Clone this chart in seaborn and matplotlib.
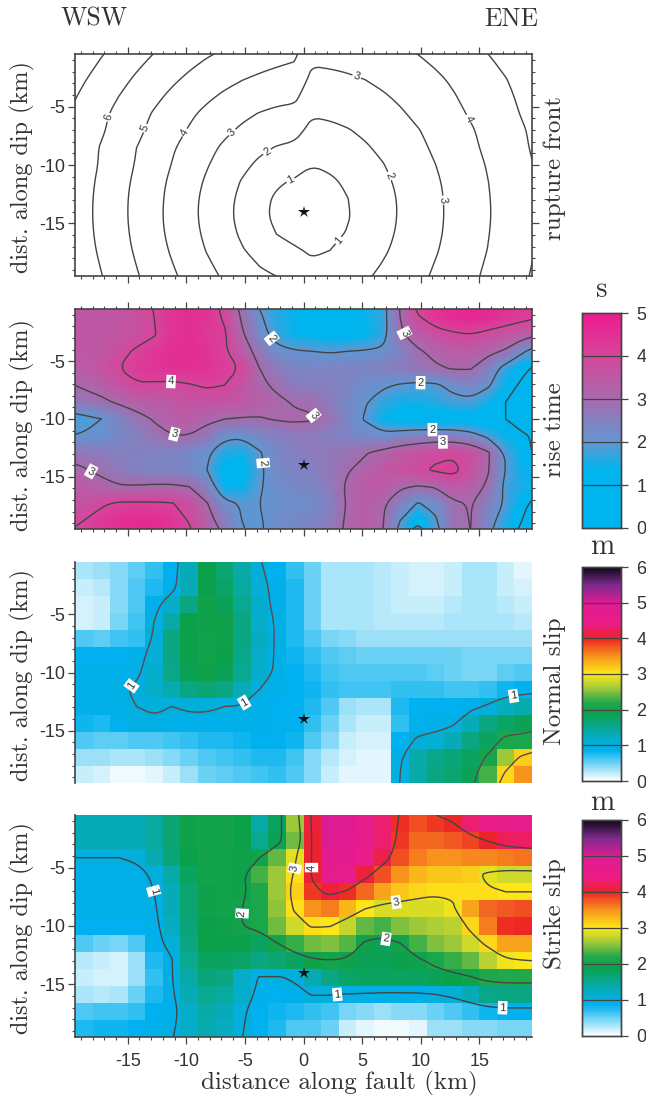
import numpy as np
import pandas as pd
import matplotlib
matplotlib.use("Agg")
import matplotlib.pyplot as plt
from matplotlib.colors import LinearSegmentedColormap
from matplotlib.path import Path
import seaborn as sns

# cell centres are 1.5 km apart in x and ~1.46 km in depth
rupture_front = [
    [7.32,6.92,6.54,6.17,5.82,5.49,5.18,4.90,4.66,4.40,4.25,4.10,3.98, 3.08,3.13,3.21,3.33,3.48,3.66,3.87,4.10,4.35,4.61,4.89,5.17,5.47],
    [7.06,6.65,6.25,5.87,5.50,5.15,4.82,4.52,4.25,4.02,3.85,3.72,3.65, 2.73,2.78,2.87,3.00,3.17,3.37,3.60,3.84,4.11,4.38,4.67,4.97,5.28],
    [6.83,6.41,5.99,5.59,5.20,4.82,4.47,4.15,3.85,3.60,3.40,3.26,3.19, 2.41,2.46,2.57,2.72,2.91,3.13,3.38,3.65,3.93,4.23,4.53,4.84,5.17],
    [6.63,6.19,5.75,5.33,4.92,4.53,4.15,3.79,3.47,3.19,2.96,2.80,2.71, 2.08,2.14,2.27,2.44,2.66,2.90,3.18,3.46,3.77,4.08,4.40,4.74,5.07],
    [6.55,6.10,5.64,5.19,4.76,4.33,3.92,3.53,3.17,2.85,2.58,2.39,2.28, 1.72,1.80,1.94,2.15,2.39,2.66,2.95,3.26,3.58,3.91,4.25,4.59,4.94],
    [6.40,5.93,5.47,5.00,4.55,4.10,3.67,3.24,2.85,2.49,2.17,1.94,1.81, 1.38,1.48,1.66,1.90,2.17,2.47,2.80,3.13,3.47,3.82,4.17,4.52,4.88],
    [6.39,5.90,5.42,4.93,4.45,3.98,3.51,3.06,2.62,2.20,1.83,1.53,1.36, 1.02,1.15,1.37,1.65,1.96,2.29,2.64,2.99,3.34,3.70,4.06,4.43,4.79],
    [6.31,5.81,5.32,4.82,4.33,3.84,3.36,2.88,2.40,1.94,1.51,1.13,0.88, 0.66,0.85,1.13,1.46,1.80,2.16,2.52,2.88,3.25,3.62,3.99,4.36,4.73],
    [6.26,5.76,5.26,4.76,4.27,3.77,3.27,2.77,2.28,1.79,1.30,0.83,0.44, 0.33,0.62,0.98,1.34,1.71,2.08,2.45,2.83,3.20,3.57,3.95,4.32,4.70],
    [6.25,5.75,5.25,4.75,4.25,3.75,3.25,2.75,2.25,1.75,1.26,0.76,0.28, 0.21,0.57,0.94,1.32,1.69,2.07,2.44,2.82,3.19,3.56,3.94,4.31,4.69],
    [6.28,5.78,5.29,4.79,4.29,3.80,3.31,2.82,2.33,1.86,1.39,0.97,0.67, 0.50,0.73,1.05,1.39,1.75,2.12,2.48,2.85,3.22,3.59,3.97,4.34,4.71],
    [6.35,5.85,5.36,4.88,4.39,3.91,3.43,2.96,2.51,2.07,1.67,1.33,1.13, 0.85,1.00,1.25,1.55,1.88,2.22,2.58,2.93,3.29,3.66,4.02,4.39,4.76],
    [6.45,5.97,5.49,5.01,4.54,4.07,3.62,3.18,2.75,2.36,2.02,1.76,1.61, 1.21,1.32,1.52,1.77,2.07,2.38,2.71,3.06,3.40,3.76,4.12,4.48,4.84],
]
rise_time = [
    [3.5,3.5,3.55,3.7,4.0,4.4,4.5,4.4,3.9,2.9,2.1,1.6,1.4,1.3,1.3,1.3,1.4,1.7,3.0,3.9,4.4,4.6,4.7,4.6,4.4,4.2],
    [3.5,3.5,3.55,3.7,3.95,4.4,4.5,4.3,4.1,3.1,2.3,1.7,1.4,1.3,1.2,1.2,1.3,1.7,2.9,3.4,3.7,3.9,4.0,3.8,3.6,3.35],
    [3.5,3.5,3.8,4.1,4.3,4.5,4.6,4.4,4.1,3.4,2.7,2.2,2.05,2.0,1.95,2.0,2.05,2.1,2.4,2.9,3.2,3.4,3.4,3.2,2.9,2.1],
    [3.4,3.6,4.0,4.2,4.4,4.5,4.5,4.4,4.2,3.95,3.0,2.6,2.4,2.4,2.4,2.4,2.4,2.5,2.6,2.75,2.9,3.05,3.05,2.5,1.7,1.2],
    [3.1,3.3,3.6,3.95,3.9,3.85,3.95,4.1,4.0,3.6,3.1,2.9,2.6,2.5,2.5,2.4,2.2,2.1,1.95,1.85,1.9,2.2,2.4,2.1,1.4,0.8],
    [2.7,2.85,3.1,3.3,3.4,3.5,3.6,3.6,3.6,3.5,3.3,3.1,2.95,2.9,2.6,2.3,2.05,1.7,1.5,1.5,1.6,1.8,1.85,1.5,1.0,0.7],
    [1.8,2.0,2.4,2.75,3.05,3.3,3.4,3.15,3.0,2.95,2.95,3.05,3.1,3.05,2.8,2.35,1.95,1.4,1.2,1.1,1.1,1.1,1.1,1.05,1.0,0.6],
    [2.05,2.1,2.3,2.5,2.8,2.98,2.98,2.7,2.15,2.1,2.3,2.5,2.6,2.6,2.5,2.4,2.3,2.2,2.35,2.5,2.55,2.5,2.3,1.85,1.4,1.1],
    [2.7,2.6,2.5,2.5,2.4,2.4,2.3,2.1,1.6,1.5,1.95,2.3,2.5,2.6,2.7,2.8,2.95,3.2,3.45,3.6,3.8,3.9,3.7,3.1,1.9,1.3],
    [3.05,2.85,2.6,2.5,2.4,2.4,2.3,2.0,1.2,1.2,1.9,2.3,2.4,2.5,2.7,2.95,3.2,3.5,3.7,3.85,4.1,4.2,3.7,3.05,2.0,1.4],
    [3.4,3.2,3.05,3.05,3.1,3.1,3.0,2.5,1.4,1.4,1.95,2.2,2.3,2.4,2.6,3.1,3.4,3.5,3.1,2.95,3.05,3.5,3.3,2.9,1.8,1.5],
    [3.6,3.9,4.1,4.1,4.1,4.05,3.7,3.05,2.2,1.95,2.0,2.1,2.2,2.2,2.5,3.05,3.4,3.1,2.5,1.95,2.2,2.85,3.05,2.5,1.9,1.2],
    [4.0,4.3,4.5,4.6,4.6,4.4,3.95,3.3,2.6,2.0,1.95,2.2,2.3,2.4,2.6,3.1,3.4,3.05,2.0,1.1,1.9,2.8,3.02,2.3,1.6,0.95],
]
normal_slip = [
    [.3,.35,.4,.55,.7,.85,1.3,1.9,1.7,1.4,1.05,.85,.7,.5,.3,.3,.3,.25,.2,.15,.15,.2,.3,.3,.2,.1],
    [.2,.25,.4,.6,.75,.9,1.3,1.9,1.75,1.45,1.1,.9,.75,.5,.3,.3,.3,.25,.2,.15,.15,.2,.3,.3,.2,.15],
    [.15,.2,.4,.6,.9,1.2,1.6,1.95,1.85,1.5,1.15,.9,.75,.5,.3,.3,.3,.25,.2,.2,.2,.25,.3,.3,.25,.2],
    [.15,.2,.45,.65,1.0,1.4,1.9,1.95,1.95,1.6,1.2,.95,.75,.5,.3,.3,.3,.25,.25,.25,.25,.3,.3,.3,.3,.25],
    [.6,.55,.65,.7,1.05,1.6,1.9,1.97,1.95,1.6,1.25,.95,.75,.6,.45,.4,.35,.35,.35,.35,.35,.35,.35,.35,.35,.35],
    [.85,.85,.85,.9,1.1,1.6,1.9,1.97,1.9,1.55,1.2,.95,.8,.7,.6,.55,.5,.5,.5,.5,.5,.5,.45,.45,.45,.45],
    [.9,.9,.9,.95,1.15,1.55,1.85,1.95,1.85,1.5,1.15,.95,.85,.75,.65,.6,.6,.6,.6,.6,.55,.5,.45,.45,.55,.6],
    [.9,.9,.95,1.05,1.2,1.35,1.6,1.7,1.6,1.3,1.0,.9,.85,.8,.7,.65,.65,.65,.7,.7,.7,.65,.65,.7,.8,.85],
    [.9,.9,.9,1.0,1.05,1.0,1.05,1.05,1.0,.98,.9,.85,.85,.75,.6,.35,.3,.3,.75,.85,.85,.85,.9,1.05,1.25,1.35],
    [.8,.75,.85,.95,.95,.9,.9,.9,.9,.9,.9,.85,.85,.7,.5,.3,.2,.2,.7,.85,.9,.95,1.3,1.6,1.75,1.85],
    [.6,.55,.55,.6,.6,.65,.7,.75,.75,.8,.85,.85,.8,.6,.4,.2,.15,.15,.85,1.05,1.1,1.3,1.6,1.8,2.1,2.1],
    [.35,.35,.3,.3,.35,.4,.5,.6,.65,.7,.75,.75,.65,.4,.25,.15,.1,.1,.95,1.4,1.55,1.65,1.8,2.05,2.6,3.15],
    [.2,.15,.05,.05,.1,.2,.35,.5,.55,.6,.65,.7,.6,.4,.2,.1,.1,.1,1.0,1.4,1.6,1.7,1.85,2.3,3.1,3.5],
]
strike_slip = [
    [1.3,1.3,1.3,1.3,1.45,1.7,1.95,2.0,2.0,1.9,1.4,1.8,2.6,4.1,5.0,4.95,4.6,4.3,3.95,3.8,3.9,3.98,4.3,4.5,4.6,4.6],
    [1.3,1.3,1.3,1.3,1.45,1.7,1.95,2.0,2.0,1.9,1.5,1.85,2.45,4.05,5.0,4.85,4.6,4.3,3.9,3.7,3.7,3.75,3.85,4.02,4.2,4.25],
    [1.0,1.0,1.0,1.05,1.35,1.65,1.9,2.0,2.0,1.95,2.0,2.4,2.9,4.05,4.8,4.75,4.5,4.15,3.8,3.6,3.5,3.5,3.55,3.55,3.6,3.65],
    [.9,.9,.9,.9,1.05,1.4,1.8,2.0,2.0,1.95,2.3,2.6,3.05,4.05,4.6,4.55,4.1,3.8,3.5,3.3,3.2,3.2,3.15,2.9,2.8,2.8],
    [.9,.9,.9,.9,1.0,1.3,1.7,1.95,2.0,1.95,2.15,2.6,3.15,3.9,4.1,3.95,3.7,3.4,3.2,3.1,3.05,3.05,3.05,3.05,3.0,3.0],
    [.9,.9,.9,.9,.95,1.3,1.7,1.95,2.0,2.0,2.1,2.55,3.05,3.5,3.6,3.3,3.0,2.85,2.85,2.85,2.85,2.95,3.4,3.7,3.75,3.8],
    [.85,.85,.85,.85,.9,1.25,1.65,1.9,1.95,2.0,2.1,2.45,2.8,3.05,3.02,2.75,2.4,2.3,2.5,2.6,2.65,2.7,3.1,3.6,3.95,3.98],
    [.6,.5,.45,.6,.9,1.1,1.6,1.9,1.9,1.9,1.8,2.0,2.25,2.45,2.5,2.35,1.95,1.85,2.0,2.3,2.5,2.6,2.8,3.1,3.4,3.4],
    [.25,.2,.15,.35,.75,.98,1.5,1.8,1.8,1.75,1.6,1.7,1.8,1.95,2.0,1.95,1.85,1.85,1.9,1.95,2.1,2.25,2.4,2.7,2.95,3.0],
    [.2,.15,.15,.35,.7,.98,1.4,1.65,1.6,1.2,.98,.97,1.05,1.35,1.6,1.75,1.8,1.8,1.8,1.8,1.85,1.9,1.98,2.15,2.2,2.2],
    [.3,.25,.3,.5,.75,.95,1.3,1.5,1.45,1.2,.9,.85,.9,1.02,1.02,.98,.95,.92,.92,.93,1.0,1.1,1.3,1.55,1.6,1.6],
    [.6,.65,.65,.7,.85,.9,1.2,1.4,1.3,1.05,.85,.8,.75,.7,.65,.45,.4,.35,.4,.4,.5,.6,.7,.8,.85,.85],
    [.75,.8,.8,.85,.9,.95,1.2,1.35,1.25,1.02,.85,.75,.6,.6,.5,.2,.1,.05,.05,.1,.35,.35,.4,.4,.45,.45],
]

x_ticks_km = [-15, -10, -5, 0, 5, 10, 15]
y_ticks_km = [-5, -10, -15]
rupture_labels = [(-16.4,-6),(-13.4,-6.9),(-10,-7.3),(-6,-7.3),(-2.7,-9.5),(-1,-11.5),(3.4,-16.8),(7.2,-11),(11.9,-13),(4.7,-2),(14,-6.1)]
rise_labels = [(-11.3,-6.6),(-11,-11.2),(-18,-14.3),(-3.4,-13.8),(-2.9,-3.2),(1.5,-9.1),(8.9,-2.4),(10,-6.6),(11,-11),(11.9,-12.1)]
normal_labels = [(-15.2,-10.6),(-5,-12.7),(18,-12.6)]
strike_labels = [(-12.8,-7),(-4,-9),(-1.1,-5),(0.5,-5),(7.9,-7.9),(7.1,-10.8),(2.9,-16),(17,-16.8)]

W, H = 646, 1099
SERIF = "cmr10"
SANS = "Liberation Sans"
LINE = "#444444"

sns.set_theme(style="ticks")

rise_cmap = LinearSegmentedColormap.from_list("rise", [
    (0.0, "#00B5EE"), (0.27, "#00B5EE"), (0.4, "#6296D2"), (0.6, "#A76BAE"), (0.8, "#D6469C"), (1.0, "#EE1A8E")])
slip_cmap = LinearSegmentedColormap.from_list("slip", [
    (0/6, "#FFFFFF"), (0.85/6, "#00B0EE"), (1.2/6, "#06ADC8"), (1.9/6, "#0BA14B"), (2.2/6, "#22A84A"),
    (2.6/6, "#A0C93A"), (3/6, "#FDE818"), (3.5/6, "#F7941D"), (4/6, "#ED2324"), (4.4/6, "#EC1C86"),
    (5/6, "#DF1B93"), (5.5/6, "#7E2A8E"), (6/6, "#100818")])


def px_axes(fig, left, top, right, bottom):
    return fig.add_axes([left / W, 1 - bottom / H, (right - left) / W, (bottom - top) / H])


def to_ix(x_km):
    return (np.asarray(x_km, dtype=float) + 19.5) / 1.5


def to_iy(y_km):
    return (-np.asarray(y_km, dtype=float) - 0.5) / (19.0 / 13)


def round_corners(path, n=2):
    # corner cutting so the contour lines are not so angular
    parts = []
    for v in path.to_polygons(closed_only=False):
        for _ in range(n):
            if len(v) < 3:
                break
            q = 0.75 * v[:-1] + 0.25 * v[1:]
            r = 0.25 * v[:-1] + 0.75 * v[1:]
            mid = np.empty((2 * len(q), 2))
            mid[0::2] = q
            mid[1::2] = r
            v = np.vstack([v[:1], mid, v[-1:]])
        parts.append(Path(v))
    return Path.make_compound_path(*parts) if parts else path


def draw_panel(fig, box, values, levels, labels, cmap=None, vmax=5, cbar_box=None, sides="all", smooth=False, color=LINE):
    ax = px_axes(fig, *box)
    df = pd.DataFrame(values)
    nrow, ncol = df.shape
    if cmap is None:
        # rupture front has contours only
        ax.set_facecolor("white")
    else:
        cax = px_axes(fig, *cbar_box)
        sns.heatmap(df, ax=ax, cmap=cmap, vmin=0, vmax=vmax, cbar_ax=cax, xticklabels=False, yticklabels=False,
                    cbar_kws=dict(ticks=list(range(vmax + 1))))
        if smooth:
            ax.collections[0].set_visible(False)
            ax.imshow(df.values, cmap=cmap, vmin=0, vmax=vmax, interpolation="bilinear",
                      extent=(0, ncol, nrow, 0), aspect="auto")
        cax.tick_params(length=5, width=0.9, color=LINE, pad=6, labelsize=13)
        for t in cax.get_yticklabels():
            t.set_family(SANS)
            t.set_color("#333333")
        cax.hlines(range(1, vmax), 0, 1, color=LINE, lw=0.9)
        for s in cax.spines.values():
            s.set_visible(True)
            s.set_color(LINE)
            s.set_linewidth(1.0)

    # ghost cells outside the frame so the lines run up to it
    xs = np.arange(-1, ncol + 1) + 0.5
    ys = np.arange(-1, nrow + 1) + 0.5
    ghost = np.pad(df.values, 1, mode="reflect", reflect_type="odd")
    cs = ax.contour(xs, ys, ghost, levels=levels, colors=color, linewidths=1.0)
    cs.set_paths([round_corners(p) for p in cs.get_paths()])
    ax.set_xlim(0, ncol)
    ax.set_ylim(nrow, 0)
    pts = [(float(to_ix(a)), float(to_iy(b))) for a, b in labels]
    texts = ax.clabel(cs, manual=pts, fmt="%d", fontsize=8, inline=True, inline_spacing=1)
    for t in texts:
        t.set_family(SANS)
        t.set_color("#333333")
        if cmap is not None:
            t.set_bbox(dict(fc="white", ec="none", pad=1.2))

    ax.plot(to_ix(0), to_iy(-14), marker="*", color="#111111", ms=9, mew=0, zorder=6)

    ax.set_xticks(to_ix(x_ticks_km), labels=[])
    ax.set_yticks(to_iy(y_ticks_km), labels=[str(v) for v in y_ticks_km])
    ax.set_xticks(to_ix(np.arange(-19, 20)), minor=True)
    ax.set_yticks(to_iy(np.arange(-19, 0)), minor=True)
    ax.tick_params(which="major", direction="out", length=5, width=0.9, color=LINE, pad=2, labelsize=13)
    ax.tick_params(which="minor", direction="out", length=2.5, width=0.8, color=LINE)
    for t in ax.get_yticklabels():
        t.set_family(SANS)
        t.set_color("#333333")
    on = sides.split(",") if sides != "all" else ["left", "right", "top", "bottom"]
    ax.tick_params(which="both", left="left" in on, right="right" in on, top="top" in on, bottom="bottom" in on)
    for name, s in ax.spines.items():
        s.set_visible(name in on)
        s.set_color(LINE)
        s.set_linewidth(1.2)
    return ax


def side_text(fig, x, y, s, size=18, rotation=90):
    fig.text(x / W, 1 - y / H, s, rotation=rotation, ha="center", va="center", family=SERIF, fontsize=size, color="#333333")


fig = plt.figure(figsize=(W / 100, H / 100), dpi=100, facecolor="white")

draw_panel(fig, (75, 54, 532, 276), rupture_front, list(range(1, 8)), rupture_labels)
draw_panel(fig, (75, 309, 532, 529), rise_time, [1, 2, 3, 4], rise_labels, rise_cmap, 5, (582, 313, 621, 528), smooth=True)
draw_panel(fig, (75, 562, 532, 783), normal_slip, [1, 2, 3], normal_labels, slip_cmap, 6, (582, 567, 621, 781), sides="left", color="#5A4A4A")
ax4 = draw_panel(fig, (75, 815, 532, 1037), strike_slip, [1, 2, 3, 4, 5], strike_labels, slip_cmap, 6, (582, 820, 621, 1036), sides="left,bottom")
ax4.set_xticks(to_ix(x_ticks_km), labels=[str(v) for v in x_ticks_km])
ax4.tick_params(axis="x", which="major", pad=6.5)
for t in ax4.get_xticklabels():
    t.set_family(SANS)
    t.set_color("#333333")
    t.set_fontsize(13)

for yc in (167, 425, 675, 928):
    side_text(fig, 22, yc, "dist. along dip (km)", size=17.5)
side_text(fig, 555, 168, "rupture front")
side_text(fig, 555, 430, "rise time")
side_text(fig, 555, 681, "Normal slip")
side_text(fig, 555, 914, "Strike slip")
side_text(fig, 339, 1083, "distance along fault (km)", rotation=0)
side_text(fig, 94, 19, "WSW", size=18.5, rotation=0)
side_text(fig, 511, 19, "ENE", size=18.5, rotation=0)
side_text(fig, 602, 290, "s", size=21, rotation=0)
side_text(fig, 602, 547, "m", size=21, rotation=0)
side_text(fig, 602, 803, "m", size=21, rotation=0)

fig.savefig("out.png", dpi=100)
